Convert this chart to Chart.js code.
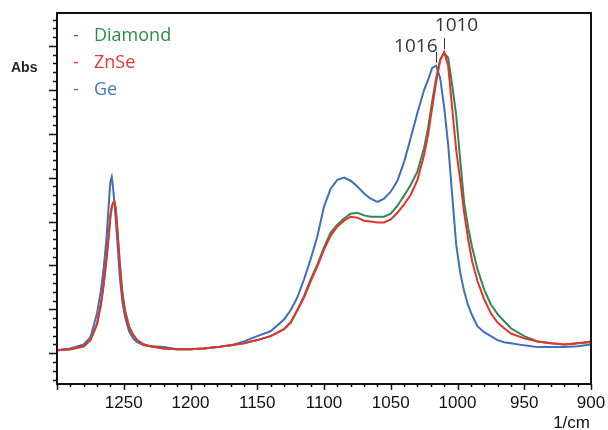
<!DOCTYPE html>
<html>
<head>
<meta charset="utf-8">
<script src="https://cdn.jsdelivr.net/npm/chart.js@4"></script>
<style>
  html, body { margin: 0; padding: 0; background: #fff; }
  #spectrum { display: block; }
</style>
</head>
<body>
<canvas id="spectrum" width="608" height="430"></canvas>
<script>
// wavenumbers (1/cm), shared by all three spectra
const wavenumbers = [1300, 1290, 1280, 1275, 1270, 1267, 1265, 1263, 1261, 1260,
  1259, 1258, 1257, 1256, 1255, 1253, 1251, 1249, 1246, 1243,
  1240, 1235, 1230, 1220, 1210, 1200, 1190, 1180, 1170, 1160,
  1150, 1140, 1130, 1125, 1120, 1115, 1110, 1105, 1100, 1095,
  1090, 1085, 1080, 1075, 1070, 1065, 1060, 1055, 1050, 1045,
  1040, 1035, 1030, 1025, 1022, 1019, 1016, 1013, 1010, 1007,
  1004, 1001, 998, 995, 992, 989, 985, 980, 975, 970,
  965, 960, 950, 940, 930, 920, 910, 900];
// absorbance
const diamond = [0.007, 0.009, 0.016, 0.030, 0.066, 0.111, 0.155, 0.209, 0.273, 0.309,
  0.332, 0.341, 0.343, 0.332, 0.295, 0.209, 0.139, 0.098, 0.061, 0.043,
  0.030, 0.020, 0.016, 0.011, 0.009, 0.009, 0.011, 0.014, 0.018, 0.023,
  0.030, 0.039, 0.055, 0.070, 0.098, 0.130, 0.168, 0.202, 0.241, 0.275,
  0.293, 0.307, 0.318, 0.320, 0.314, 0.311, 0.311, 0.311, 0.318, 0.336,
  0.359, 0.384, 0.414, 0.468, 0.514, 0.573, 0.627, 0.668, 0.684, 0.673,
  0.611, 0.543, 0.441, 0.343, 0.286, 0.241, 0.191, 0.145, 0.111, 0.089,
  0.073, 0.057, 0.039, 0.027, 0.023, 0.020, 0.023, 0.025];
const znse = [0.007, 0.009, 0.016, 0.030, 0.068, 0.116, 0.161, 0.218, 0.282, 0.316,
  0.334, 0.343, 0.345, 0.327, 0.286, 0.200, 0.132, 0.093, 0.059, 0.041,
  0.030, 0.020, 0.016, 0.011, 0.009, 0.009, 0.011, 0.014, 0.018, 0.023,
  0.030, 0.039, 0.055, 0.070, 0.098, 0.127, 0.164, 0.198, 0.236, 0.268,
  0.289, 0.302, 0.311, 0.309, 0.302, 0.300, 0.298, 0.298, 0.305, 0.320,
  0.339, 0.361, 0.395, 0.452, 0.498, 0.559, 0.618, 0.668, 0.686, 0.655,
  0.559, 0.464, 0.395, 0.320, 0.259, 0.209, 0.164, 0.123, 0.091, 0.070,
  0.057, 0.045, 0.034, 0.027, 0.023, 0.020, 0.023, 0.027];
const ge = [0.007, 0.011, 0.020, 0.036, 0.091, 0.145, 0.195, 0.259, 0.350, 0.391,
  0.402, 0.377, 0.343, 0.305, 0.264, 0.175, 0.116, 0.082, 0.050, 0.034,
  0.025, 0.018, 0.016, 0.014, 0.009, 0.009, 0.011, 0.014, 0.018, 0.027,
  0.039, 0.050, 0.077, 0.098, 0.127, 0.168, 0.214, 0.266, 0.334, 0.375,
  0.395, 0.400, 0.393, 0.380, 0.364, 0.352, 0.345, 0.352, 0.368, 0.393,
  0.436, 0.491, 0.548, 0.600, 0.623, 0.650, 0.655, 0.627, 0.561, 0.475,
  0.361, 0.248, 0.184, 0.141, 0.109, 0.086, 0.061, 0.048, 0.039, 0.030,
  0.025, 0.023, 0.018, 0.014, 0.014, 0.014, 0.016, 0.020];
// peak labels: [text, wavenumber, series it sits on]
const peakLabels = [["1016", 1016, "Ge"], ["1010", 1010, "ZnSe"]];

const series = [
  { label: "Diamond", values: diamond, color: "#2e8b4f", text: "#2f8a4e" },
  { label: "ZnSe", values: znse, color: "#e8312f", text: "#e53935" },
  { label: "Ge", values: ge, color: "#3e6ebf", text: "#4a76b8" },
];
// draw order: red on top, then green, then blue
const drawOrder = { "ZnSe": 0, "Diamond": 1, "Ge": 2 };

const frameAndNotes = {
  id: "frameAndNotes",
  afterDraw(chart) {
    const ctx = chart.ctx;
    const a = chart.chartArea;
    const xs = chart.scales.x, ys = chart.scales.y;
    ctx.save();
    // box
    ctx.strokeStyle = "#111";
    ctx.lineWidth = 2;
    ctx.strokeRect(a.left, a.top, a.right - a.left, a.bottom - a.top);
    // x tick marks every 10, long every 50
    ctx.lineWidth = 1.5;
    for (let v = 900; v <= 1300; v += 10) {
      const px = Math.round(xs.getPixelForValue(v)) + 0.5;
      const len = v % 50 === 0 ? 6 : 3;
      ctx.beginPath();
      ctx.moveTo(px, a.bottom);
      ctx.lineTo(px, a.bottom + len);
      ctx.stroke();
    }
    // y tick marks every 0.02, long every 0.1
    for (let i = -3; i <= 38; i++) {
      const v = i * 0.02;
      if (v < ys.min || v > ys.max) continue;
      const py = Math.round(ys.getPixelForValue(v)) + 0.5;
      const len = i % 5 === 0 ? 8 : 4;
      ctx.beginPath();
      ctx.moveTo(a.left, py);
      ctx.lineTo(a.left - len, py);
      ctx.stroke();
    }
    // axis names
    ctx.fillStyle = "#222";
    ctx.font = "bold 14px 'Liberation Sans'";
    ctx.textAlign = "left";
    ctx.textBaseline = "middle";
    ctx.fillText("Abs", 11, 68);
    ctx.font = "17px 'Liberation Sans'";
    ctx.fillStyle = "#111";
    ctx.textAlign = "right";
    ctx.fillText("1/cm", a.right - 1, 423);
    // legend
    ctx.textAlign = "left";
    ctx.font = "18px 'Open Sans'";
    series.forEach((s, i) => {
      const y = 36 + i * 27;
      ctx.fillStyle = s.text;
      ctx.fillText("-", 73, y);
      ctx.fillText(s.label, 94, y);
    });
    // peak labels
    ctx.strokeStyle = "#333";
    ctx.lineWidth = 1;
    ctx.fillStyle = "#333";
    ctx.font = "19px 'Open Sans'";
    peakLabels.forEach(([text, wn, name]) => {
      const s = series.find(d => d.label === name);
      const idx = wavenumbers.indexOf(wn);
      const px = Math.round(xs.getPixelForValue(wn)) + 0.5;
      const py = ys.getPixelForValue(Math.max(...s.values.slice(idx - 2, idx + 3)));
      ctx.beginPath();
      ctx.moveTo(px, py - 3);
      ctx.lineTo(px, py - 14);
      ctx.stroke();
      ctx.textBaseline = "alphabetic";
      if (name === "Ge") {
        ctx.textAlign = "right";
        ctx.fillText(text, px + 1, py - 14);
      } else {
        ctx.textAlign = "center";
        ctx.fillText(text, px + 12, py - 21);
      }
    });
    ctx.restore();
  }
};

new Chart(document.getElementById("spectrum"), {
  type: "line",
  data: {
    datasets: series.map(s => ({
      label: s.label,
      data: wavenumbers.map((w, i) => ({ x: w, y: s.values[i] })),
      borderColor: s.color,
      borderWidth: 2,
      pointRadius: 0,
      tension: 0,
      fill: false,
      order: drawOrder[s.label],
    })),
  },
  options: {
    responsive: false,
    devicePixelRatio: 1,
    animation: false,
    layout: { padding: { top: 13, right: 17, left: 0, bottom: 0 } },
    plugins: { legend: { display: false }, tooltip: { enabled: false } },
    scales: {
      x: {
        type: "linear",
        min: 900,
        max: 1300,
        reverse: true,
        grid: { display: false },
        border: { display: false },
        ticks: {
          stepSize: 50,
          autoSkip: false,
          maxRotation: 0,
          padding: 1,
          color: "#111",
          font: { family: "'Liberation Sans'", size: 17 },
          callback: v => (v === 1300 ? "" : String(v)),
        },
        afterFit: scale => {
          scale.height = 46;
          scale.paddingRight = 0;
        },
      },
      y: {
        min: -0.07,
        max: 0.775,
        grid: { display: false },
        border: { display: false },
        ticks: { display: false },
        afterFit: scale => { scale.width = 57; },
      },
    },
  },
  plugins: [frameAndNotes],
});
</script>
</body>
</html>
